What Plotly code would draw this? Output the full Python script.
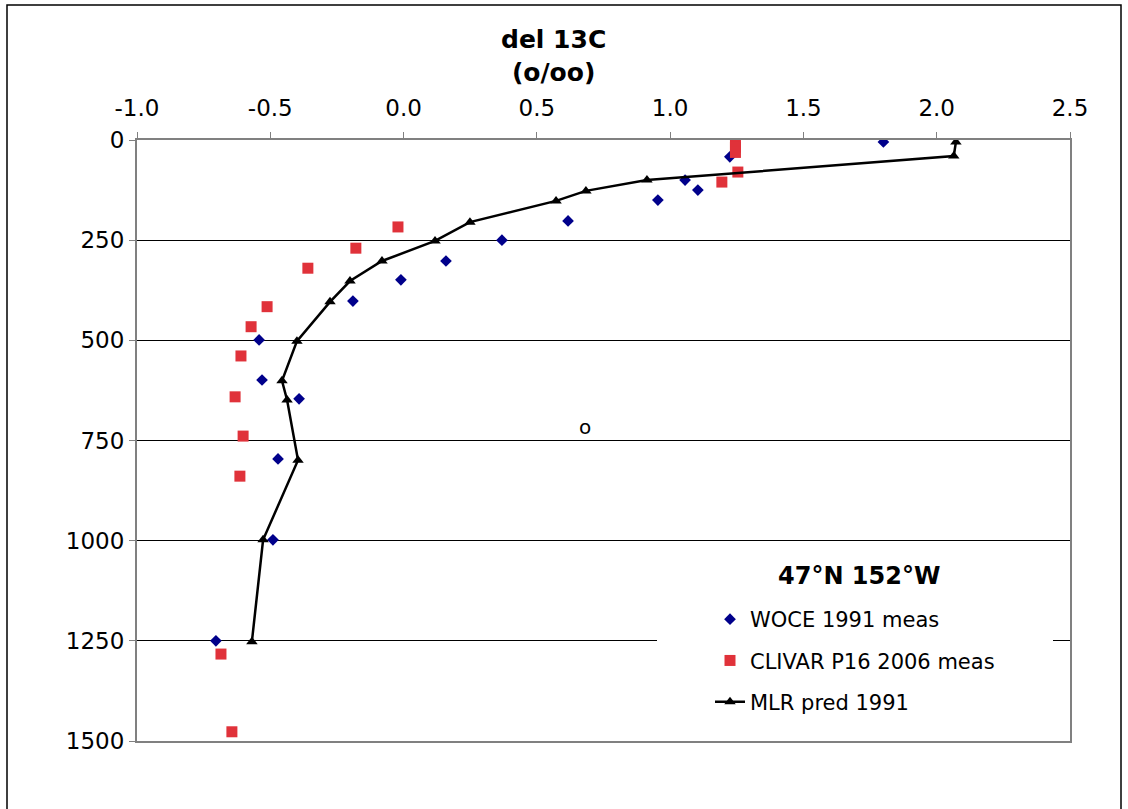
import plotly.graph_objects as go

# ---- data (depth in m, del13C in per mil) ----
woce_x = [1.80, 1.224, 1.056, 1.104, 0.954, 0.617, 0.369, 0.159, -0.010, -0.190,
          -0.542, -0.531, -0.392, -0.471, -0.490, -0.704]
woce_depth = [5, 42, 100, 125, 150, 202, 250, 302, 349, 402,
              499, 599, 646, 796, 998, 1250]

clivar_x = [1.245, 1.245, 1.245, 1.254, 1.194, -0.021, -0.179, -0.359, -0.512, -0.572,
            -0.610, -0.632, -0.602, -0.614, -0.685, -0.644]
clivar_depth = [4, 18, 31, 80, 105, 217, 270, 320, 416, 466,
                539, 641, 739, 839, 1283, 1477]

mlr_x = [2.072, 2.064, 0.913, 0.684, 0.572, 0.249, 0.118, -0.081, -0.201, -0.276,
         -0.400, -0.456, -0.437, -0.396, -0.527, -0.569]
mlr_depth = [5, 40, 100, 127, 152, 205, 252, 302, 352, 404,
             502, 601, 649, 799, 998, 1252]

x_ticks = [-1.0, -0.5, 0.0, 0.5, 1.0, 1.5, 2.0, 2.5]
y_ticks = [0, 250, 500, 750, 1000, 1250, 1500]

FONT = "DejaVu Sans"

fig = go.Figure()
fig.add_trace(go.Scatter(
    x=woce_x, y=woce_depth, mode="markers", name="WOCE 1991 meas",
    legendgroup="a",
    marker=dict(symbol="diamond", size=9, color="#00008B", line=dict(width=0))))
fig.add_trace(go.Scatter(
    x=clivar_x, y=clivar_depth, mode="markers", name="CLIVAR P16 2006 meas",
    legendgroup="b",
    marker=dict(symbol="square", size=11, color="#E0323A", line=dict(width=0))))
fig.add_trace(go.Scatter(
    x=mlr_x, y=mlr_depth, mode="lines+markers", name="MLR pred 1991",
    legendgroup="c",
    line=dict(color="black", width=2.5),
    marker=dict(symbol="triangle-up", size=10, color="black")))

W, H = 1128, 809
ml, mr, mt, mb = 137, 58, 140, 68
pw, ph = W - ml - mr, H - mt - mb


def px(xp):
    return (xp - ml) / pw


def py(yp):
    return 1 - (yp - mt) / ph


fig.update_layout(
    width=W, height=H,
    margin=dict(l=ml, r=mr, t=mt, b=mb, pad=0),
    paper_bgcolor="white", plot_bgcolor="white",
    font=dict(family=FONT, size=20, color="black"),
    showlegend=True,
    legend=dict(
        x=px(710), xanchor="left", y=py(599), yanchor="top",
        bgcolor="rgba(0,0,0,0)", borderwidth=0,
        font=dict(family=FONT, size=21, color="black"),
        traceorder="grouped", tracegroupgap=11,
    ),
    xaxis=dict(
        range=[-1.0, 2.5], side="top", tickvals=x_ticks,
        ticktext=[f"{v:.1f}" for v in x_ticks],
        showgrid=False, zeroline=False,
        showline=True, linecolor="#808080", linewidth=2, mirror=True,
        ticks="outside", ticklen=6, tickcolor="#808080", tickwidth=1,
        ticklabelstandoff=7,
        tickfont=dict(family=FONT, size=23, color="black"),
    ),
    yaxis=dict(
        range=[1500, 0], tickvals=y_ticks,
        showgrid=True, gridcolor="black", gridwidth=1, zeroline=False,
        showline=True, linecolor="#808080", linewidth=2, mirror=True,
        ticks="outside", ticklen=6, tickcolor="#808080", tickwidth=1,
        tickfont=dict(family=FONT, size=23, color="black"),
    ),
    shapes=[
        # legend white box covering the gridline
        dict(type="rect", xref="paper", yref="paper",
             x0=px(657), x1=px(1053), y0=py(732), y1=py(552),
             fillcolor="white", line=dict(width=0), layer="above"),
        # outer chart border
        dict(type="rect", xref="paper", yref="paper",
             x0=px(7), x1=px(1121), y0=py(830), y1=py(5),
             fillcolor="rgba(0,0,0,0)", line=dict(color="black", width=1.5),
             layer="above"),
    ],
    annotations=[
        dict(text="<b>del 13C<br>(o/oo)</b>", xref="paper", yref="paper",
             x=px(553), y=py(56), xanchor="center", yanchor="middle",
             showarrow=False, font=dict(family=FONT, size=25, color="black")),
        dict(text="<b>47°N 152°W</b>", xref="paper", yref="paper",
             x=px(859), y=py(576), xanchor="center", yanchor="middle",
             showarrow=False, font=dict(family=FONT, size=24, color="black")),
        dict(text="o", x=0.68, y=716, xref="x", yref="y",
             xanchor="center", yanchor="middle", showarrow=False,
             font=dict(family=FONT, size=20, color="black")),
    ],
)

fig.write_html("out.html")
